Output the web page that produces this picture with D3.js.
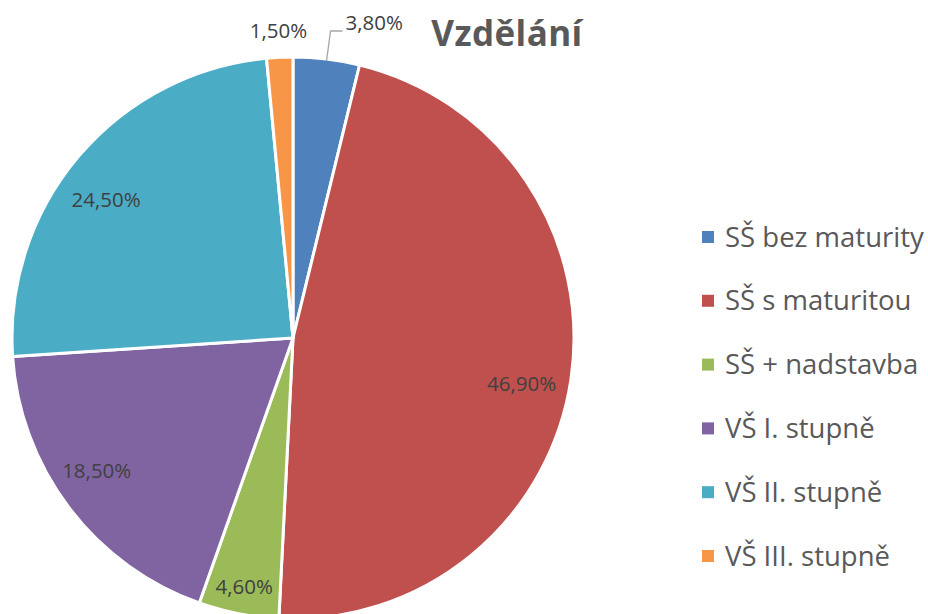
<!DOCTYPE html>
<html><head><meta charset="utf-8">
<script src="https://cdn.jsdelivr.net/npm/d3@7"></script>
<style>html,body{margin:0;padding:0;background:#fff;}svg{display:block;}</style>
</head><body>
<svg id="chart" width="928" height="614"></svg>
<script>
const title = "Vzdělání";
const categories = ["SŠ bez maturity","SŠ s maturitou","SŠ + nadstavba","VŠ I. stupně","VŠ II. stupně","VŠ III. stupně"];
const values = [3.8, 46.9, 4.6, 18.5, 24.5, 1.5];
const valueLabels = ["3,80%","46,90%","4,60%","18,50%","24,50%","1,50%"];
const colors = ["#4F81BD","#C0504D","#9BBB59","#8064A2","#4BACC6","#F79646"];

const svg = d3.select("#chart");
const cx = 293, cy = 338, R = 281;
const FONT = "'Open Sans', sans-serif";

const data = categories.map((c,i)=>({cat:c, value:values[i], label:valueLabels[i], color:colors[i]}));
const pie = d3.pie().value(d=>d.value).sort(null);
const arcs = pie(data);
const arc = d3.arc().innerRadius(0).outerRadius(R);

const g = svg.append("g").attr("transform",`translate(${cx},${cy})`);
g.selectAll("path").data(arcs).join("path")
  .attr("d", arc).attr("fill", d=>d.data.color)
  .attr("stroke","#fff").attr("stroke-width",3).attr("stroke-linejoin","round");

// layout nudges for Excel-like "best fit" label placement (by slice index)
const nudge = {1:[-4,12], 2:[0,2], 3:[-9,-9], 4:[-8,14]};

// inside labels
const inner = arcs.filter(d=>d.data.value>=4);
g.selectAll("text.in").data(inner).join("text")
  .attr("class","in")
  .attr("transform", d=>{
     const a=(d.startAngle+d.endAngle)/2; const r = d.data.value<10?252:235;
     const n = nudge[d.index]||[0,0];
     return `translate(${r*Math.sin(a)+n[0]},${-r*Math.cos(a)+n[1]})`;})
  .attr("text-anchor","middle").attr("dy","0.35em")
  .attr("font-family",FONT).attr("font-size",20.5).attr("fill","#404040")
  .text(d=>d.data.label);

// outside labels
const outer = arcs.filter(d=>d.data.value<4);
outer.forEach(d=>{
  const a=(d.startAngle+d.endAngle)/2;
  const ex = R*Math.sin(a), ey = -R*Math.cos(a);
  if (d.data.value > 2) {
    const px = ex+4, py = -307;
    g.append("path").attr("d", d3.line()([[ex,ey+2],[px,py],[px+12,py]]))
      .attr("fill","none").attr("stroke","#A6A6A6").attr("stroke-width",1.3);
    g.append("text").attr("x",px+15).attr("y",py-8).attr("dy","0.35em")
      .attr("font-family",FONT).attr("font-size",20.5).attr("fill","#404040").text(d.data.label);
  } else {
    const r2 = 308;
    g.append("text").attr("x",r2*Math.sin(a)).attr("y",-r2*Math.cos(a)).attr("dy","0.35em")
      .attr("text-anchor","middle")
      .attr("font-family",FONT).attr("font-size",20.5).attr("fill","#404040").text(d.data.label);
  }
});

// title
svg.append("text").attr("x",507).attr("y",46).attr("text-anchor","middle")
  .attr("font-family",FONT).attr("font-weight","bold").attr("font-size",35)
  .attr("letter-spacing","0.4px").attr("fill","#595959")
  .text(title);

// legend
const ly = d3.scalePoint().domain(categories).range([237, 556]);
const leg = svg.append("g");
const items = leg.selectAll("g").data(data).join("g")
  .attr("transform", d=>`translate(702,${ly(d.cat)})`);
items.append("rect").attr("x",0).attr("y",-6).attr("width",12).attr("height",12).attr("fill",d=>d.color);
items.append("text").attr("x",23).attr("dy","0.35em")
  .attr("font-family",FONT).attr("font-size",27.5).attr("fill","#595959").text(d=>d.cat);
</script>
</body></html>
